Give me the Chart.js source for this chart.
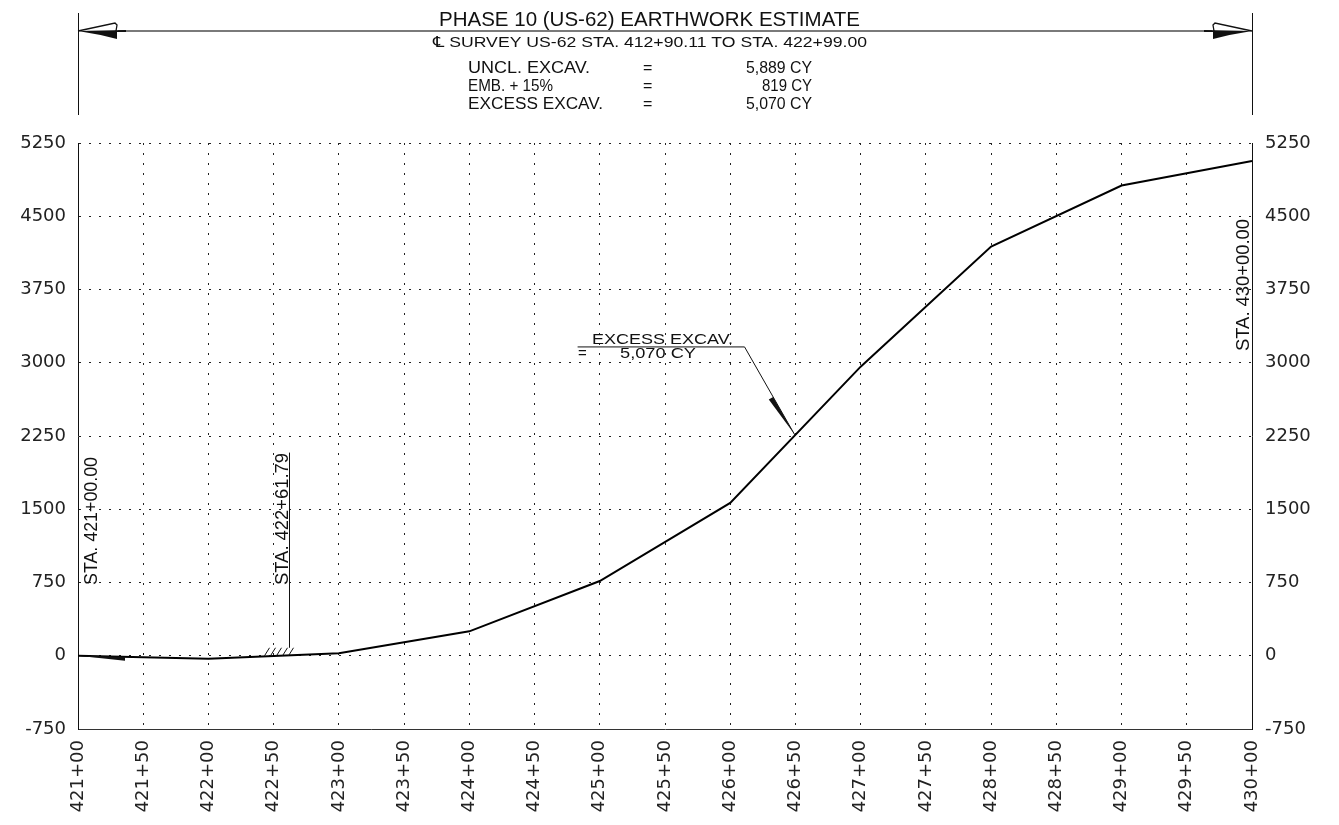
<!DOCTYPE html>
<html>
<head>
<meta charset="utf-8">
<title>Phase 10 (US-62) Earthwork Estimate</title>
<script src="https://cdn.jsdelivr.net/npm/chart.js@4.4.1/dist/chart.umd.min.js"></script>
<style>
  html, body { margin: 0; padding: 0; background: #fff; }
  #wrap { width: 1339px; height: 825px; position: relative; }
</style>
</head>
<body>
<div id="wrap"><canvas id="mass"></canvas></div>
<script>
// stations in feet (421+00 = 42100), mass ordinate in CY
const stations = [42100, 42200, 42300, 42400, 42500, 42600, 42700, 42800, 42900, 43000];
const massOrdinate = [0, -30, 25, 250, 765, 1565, 2960, 4190, 4815, 5065];

const yMin = -750;
const yMax = 5250;
const yStep = 750;
const xStep = 50;

const titleText = 'PHASE 10 (US-62) EARTHWORK ESTIMATE';
const subTitleText = '\u2104 SURVEY US-62 STA. 412+90.11 TO STA. 422+99.00';
const summaryLabels = ['UNCL. EXCAV.', 'EMB. + 15%', 'EXCESS EXCAV.'];
const summaryValues = ['5,889 CY', '819 CY', '5,070 CY'];

// marked stations along the profile
const startStation = 42100;
const gradePointStation = 42261.79;
const endStation = 43000;
const calloutStation = 42650;
const calloutValue = 2250;

const plain = "'Liberation Sans', Arial, 'DejaVu Sans', sans-serif";
const tickFont = { family: "'DejaVu Sans', sans-serif", size: 18 };

const fmtStation = v => {
  const s = Math.round(v);
  const hi = Math.floor(s / 100);
  const lo = String(s % 100).padStart(2, '0');
  return hi + '+' + lo;
};

// draw text squeezed/stretched to a given width
const fitText = (ctx, text, x, y, w, align) => {
  const m = ctx.measureText(text).width;
  ctx.save();
  ctx.translate(x, y);
  ctx.scale(w / m, 1);
  ctx.textAlign = align;
  ctx.fillText(text, 0, 0);
  ctx.restore();
};

const fitTextUp = (ctx, text, x, y, len) => {
  const m = ctx.measureText(text).width;
  ctx.save();
  ctx.translate(x, y);
  ctx.rotate(-Math.PI / 2);
  ctx.scale(len / m, 1);
  ctx.textAlign = 'left';
  ctx.fillText(text, 0, 0);
  ctx.restore();
};

const drawingNotes = {
  id: 'drawingNotes',
  afterDatasetsDraw(chart) {
    const { ctx, chartArea: a, scales: { x, y } } = chart;
    ctx.save();
    ctx.fillStyle = '#111';
    ctx.strokeStyle = '#111';
    ctx.textBaseline = 'alphabetic';

    // dimension line across top
    const dimY = 31;
    ctx.lineWidth = 1;
    ctx.beginPath();
    ctx.moveTo(a.left + 0.5, 13); ctx.lineTo(a.left + 0.5, 115);
    ctx.moveTo(a.right + 0.5, 13); ctx.lineTo(a.right + 0.5, 115);
    ctx.stroke();
    ctx.strokeStyle = '#7a7a7a';
    ctx.lineWidth = 2;
    ctx.beginPath();
    ctx.moveTo(a.left + 40, dimY); ctx.lineTo(a.right - 40, dimY);
    ctx.stroke();
    ctx.strokeStyle = '#111';
    ctx.lineWidth = 1.3;
    [[a.left, 1], [a.right, -1]].forEach(([tx, d]) => {
      ctx.beginPath();
      ctx.moveTo(tx, dimY);
      ctx.lineTo(tx + d * 37, dimY - 8);
      ctx.lineTo(tx + d * 39, dimY - 6);
      ctx.lineTo(tx + d * 38, dimY);
      ctx.stroke();
      ctx.beginPath();
      ctx.moveTo(tx, dimY);
      ctx.lineTo(tx + d * 48, dimY - 1);
      ctx.lineTo(tx + d * 48, dimY + 1);
      ctx.lineTo(tx + d * 39, dimY + 1);
      ctx.lineTo(tx + d * 39, dimY + 8);
      ctx.quadraticCurveTo(tx + d * 20, dimY + 3, tx, dimY);
      ctx.fill();
    });

    // titles and summary table
    ctx.font = '21px ' + plain;
    fitText(ctx, titleText, 439, 26, 421, 'left');
    ctx.font = '15px ' + plain;
    fitText(ctx, subTitleText, 433, 47, 434, 'left');
    ctx.font = '16px ' + plain;
    const rowY = [73, 91, 109];
    const labelW = [122, 85, 135];
    const valueW = [66, 50, 66];
    summaryLabels.forEach((t, i) => {
      fitText(ctx, t, 468, rowY[i], labelW[i], 'left');
      ctx.textAlign = 'left';
      ctx.fillText('=', 643, rowY[i]);
      fitText(ctx, summaryValues[i], 812, rowY[i], valueW[i], 'right');
    });

    const y0 = y.getPixelForValue(0);

    // start arrow at 421+00
    const xs = x.getPixelForValue(startStation);
    ctx.beginPath();
    ctx.moveTo(xs, y0);
    ctx.lineTo(xs + 47, y0 + 1);
    ctx.lineTo(xs + 47, y0 + 5);
    ctx.closePath();
    ctx.fill();

    // grade point line and hatching
    const xg = Math.round(x.getPixelForValue(gradePointStation)) + 0.5;
    ctx.lineWidth = 1;
    ctx.beginPath();
    ctx.moveTo(xg, y.getPixelForValue(2080));
    ctx.lineTo(xg, y0 - 8);
    for (let i = 0; i < 5; i++) {
      const bx = xg - 25 + i * 6;
      ctx.moveTo(bx, y0);
      ctx.lineTo(bx + 5, y0 - 8);
    }
    ctx.stroke();

    // station labels
    ctx.font = '19px ' + plain;
    fitTextUp(ctx, 'STA. 421+00.00', xs + 19, 585, 128);
    fitTextUp(ctx, 'STA. 422+61.79', xg - 2, 585, 132);
    fitTextUp(ctx, 'STA. 430+00.00', x.getPixelForValue(endStation) - 3, 351, 132);

    // excess excavation callout
    const tx = x.getPixelForValue(calloutStation);
    const ty = y.getPixelForValue(calloutValue);
    const kx = x.getPixelForValue(42611);
    const ky = y.getPixelForValue(3162);
    const sx = x.getPixelForValue(42483);
    ctx.lineWidth = 1;
    ctx.beginPath();
    ctx.moveTo(sx, ky); ctx.lineTo(kx, ky); ctx.lineTo(tx, ty);
    ctx.stroke();
    const dx = tx - kx, dy = ty - ky;
    const len = Math.hypot(dx, dy);
    const ux = dx / len, uy = dy / len;
    const bx = tx - ux * 45, by = ty - uy * 45;
    ctx.beginPath();
    ctx.moveTo(tx - ux * 2, ty - uy * 2);
    ctx.lineTo(bx, by);
    ctx.lineTo(bx - uy * 5, by + ux * 5);
    ctx.closePath();
    ctx.fill();
    ctx.font = '15px ' + plain;
    fitText(ctx, 'EXCESS EXCAV.', 592, ky - 3, 141, 'left');
    ctx.textAlign = 'left';
    ctx.fillText('=', 578, ky + 11);
    fitText(ctx, '5,070 CY', 620, ky + 11, 76, 'left');

    ctx.restore();
  }
};

const dots = [2, 8];

new Chart(document.getElementById('mass'), {
  type: 'line',
  data: {
    datasets: [{
      data: stations.map((s, i) => ({ x: s, y: massOrdinate[i] })),
      borderColor: '#000',
      borderWidth: 2,
      pointRadius: 0,
      tension: 0,
      clip: false
    }]
  },
  options: {
    responsive: true,
    maintainAspectRatio: false,
    animation: false,
    devicePixelRatio: 1,
    layout: { padding: { top: 143, left: 0, right: 0, bottom: 0 } },
    plugins: {
      legend: { display: false },
      tooltip: { enabled: false },
      title: { display: false }
    },
    scales: {
      x: {
        type: 'linear',
        min: startStation,
        max: endStation,
        afterBuildTicks: s => {
          const t = [];
          for (let v = startStation; v <= endStation; v += xStep) t.push({ value: v });
          s.ticks = t;
        },
        afterFit: s => { s.height = 96; },
        grid: { color: '#222', lineWidth: 1, drawTicks: false },
        border: { display: true, color: '#333', width: 1, dash: dots },
        ticks: {
          minRotation: 90,
          maxRotation: 90,
          padding: 11,
          color: '#222',
          font: tickFont,
          autoSkip: false,
          callback: v => fmtStation(v)
        }
      },
      y: {
        position: 'left',
        min: yMin,
        max: yMax,
        afterFit: s => { s.width = 78; },
        grid: { color: '#222', lineWidth: 1, drawTicks: false },
        border: { display: true, color: '#111', width: 1, dash: dots },
        ticks: { stepSize: yStep, padding: 12, color: '#222', font: tickFont, callback: v => String(v) }
      },
      y2: {
        position: 'right',
        min: yMin,
        max: yMax,
        afterFit: s => { s.width = 87; },
        grid: { display: false, drawTicks: false },
        border: { display: true, color: '#111', width: 1 },
        ticks: { stepSize: yStep, padding: 13, color: '#222', font: tickFont, callback: v => String(v) }
      }
    }
  },
  plugins: [drawingNotes]
});
</script>
</body>
</html>
